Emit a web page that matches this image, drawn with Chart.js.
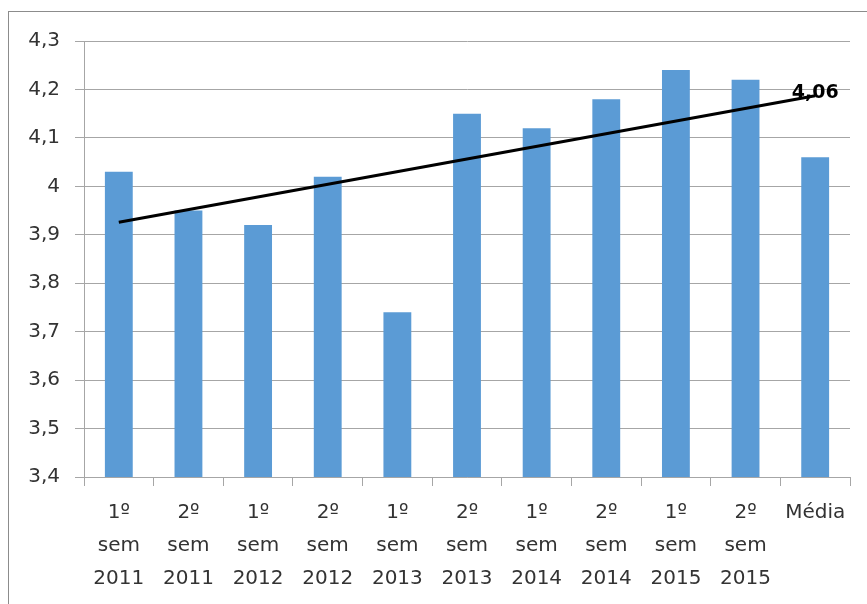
<!DOCTYPE html>
<html>
<head>
<meta charset="utf-8">
<script src="https://cdn.jsdelivr.net/npm/chart.js@4.4.1/dist/chart.umd.min.js"></script>
<style>
    body{margin:0;overflow:hidden;background:#fff;}
    #frame{position:absolute;left:8px;top:11px;width:900px;height:700px;border:1px solid #8c8c8c;}
    #avaliacao{position:absolute;left:0;top:0;}
</style>
</head>
<body>
<div id="frame"></div>
<canvas id="avaliacao" width="867" height="604"></canvas>
<script>
// semesters (multi-line labels) and average scores
const semestres = [
    ['1º','sem','2011'], ['2º','sem','2011'],
    ['1º','sem','2012'], ['2º','sem','2012'],
    ['1º','sem','2013'], ['2º','sem','2013'],
    ['1º','sem','2014'], ['2º','sem','2014'],
    ['1º','sem','2015'], ['2º','sem','2015'],
    'Média'
]
const notas = [4.03, 3.95, 3.92, 4.02, 3.74, 4.15, 4.12, 4.18, 4.24, 4.22, 4.06]
// trend line, only first and last points (gap filled by spanGaps)
const tendencia = [3.926, null, null, null, null, null, null, null, null, null, 4.187]
const yMin = 3.4
const yMax = 4.3
const yStep = 0.1

const cinza = '#a6a6a6'
const texto = '#333333'
const fonte = "'DejaVu Sans', sans-serif"

function fmt(v){
    return Number(v.toFixed(2)).toString().replace('.', ',')
}

// "4,06" printed at the end of the trend line
const rotuloMedia = {
    id: 'rotuloMedia',
    afterDatasetsDraw(chart){
        const ctx = chart.ctx
        const last = notas.length - 1
        const x = chart.scales.x.getPixelForValue(last)
        const y = chart.scales.y.getPixelForValue(tendencia[last])
        ctx.save()
        ctx.font = `bold 19px ${fonte}`
        ctx.fillStyle = '#000'
        ctx.textAlign = 'center'
        ctx.textBaseline = 'alphabetic'
        ctx.fillText(fmt(notas[last]), x, y + 2)
        ctx.restore()
    }
}

const chartEle = document.getElementById('avaliacao')
const chart = new Chart(chartEle, {
    data: {
        labels: semestres,
        datasets: [
            {
                type: 'line',
                data: tendencia,
                spanGaps: true,
                borderColor: '#000',
                borderWidth: 3,
                pointRadius: 0,
                order: 0
            },
            {
                type: 'bar',
                data: notas,
                backgroundColor: '#5b9bd5',
                categoryPercentage: 1,
                barPercentage: 0.4,
                order: 1
            }
        ]
    },
    options: {
        responsive: false,
        animation: false,
        layout: {padding: {top: 41, right: 17, left: 0, bottom: 0}},
        plugins: {legend: {display: false}, tooltip: {enabled: false}},
        scales: {
            x: {
                grid: {offset: true, drawOnChartArea: false, drawTicks: true, tickLength: 9, color: cinza},
                border: {color: cinza},
                ticks: {
                    color: texto,
                    padding: 10,
                    maxRotation: 0,
                    autoSkip: false,
                    font: {family: fonte, size: 20, lineHeight: 1.65}
                },
                afterFit: (s) => { s.height = 127 }
            },
            y: {
                min: yMin,
                max: yMax,
                grid: {color: cinza, tickLength: 9},
                border: {color: cinza},
                ticks: {
                    stepSize: yStep,
                    color: texto,
                    padding: 15,
                    font: {family: fonte, size: 20},
                    callback: (v) => fmt(Number(v.toFixed(1)))
                },
                afterFit: (s) => { s.width = 84 }
            }
        }
    },
    plugins: [rotuloMedia]
})
</script>
</body>
</html>
